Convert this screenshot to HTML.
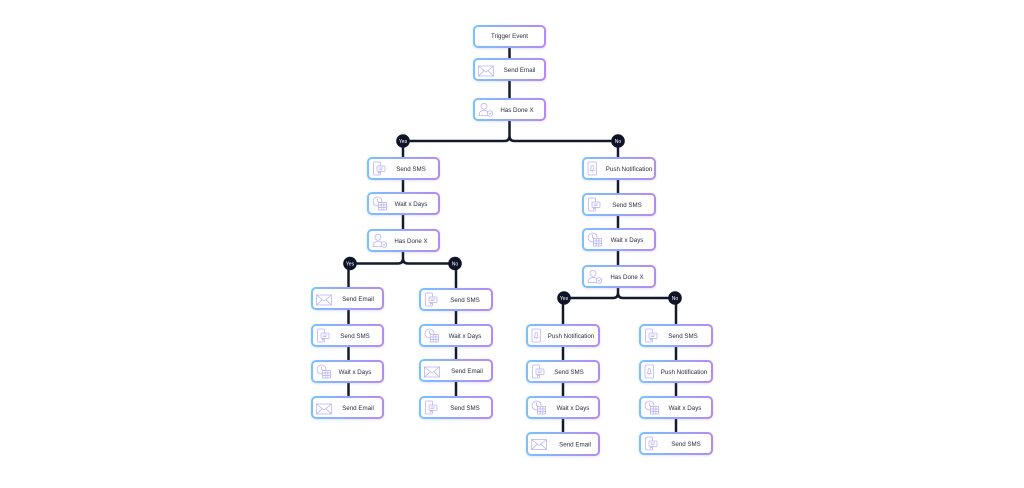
<!DOCTYPE html>
<html>
<head>
<meta charset="utf-8">
<style>
html,body{margin:0;padding:0;background:#fff;}
body{width:1024px;height:488px;overflow:hidden;}
svg{display:block;}
.t{font-family:"Liberation Sans",sans-serif;font-size:6.2px;fill:#2b2d3d;text-anchor:middle;}
.b{font-family:"Liberation Sans",sans-serif;font-size:5px;fill:#fff;text-anchor:middle;}
.ln{stroke:#141a2e;stroke-width:2.5;fill:none;}
.ic{stroke:#b9b0f4;stroke-width:0.75;fill:none;stroke-linejoin:round;stroke-linecap:round;}
</style>
</head>
<body>
<svg width="1024" height="488" viewBox="0 0 1024 488" xmlns="http://www.w3.org/2000/svg">
<defs>
<linearGradient id="g" x1="0" y1="0" x2="1" y2="0">
<stop offset="0" stop-color="#78c2ff"/>
<stop offset="1" stop-color="#b58af4"/>
</linearGradient>
<filter id="sh" x="-20%" y="-30%" width="140%" height="160%">
<feDropShadow dx="0" dy="0.8" stdDeviation="1.2" flood-color="#8a8ad8" flood-opacity="0.25"/>
</filter>
<g id="i-email" class="ic">
<rect x="0.5" y="2" width="15" height="10"/>
<polyline points="0.5,2 8,8 15.5,2"/>
<line x1="0.5" y1="12" x2="6" y2="6.8"/>
<line x1="15.5" y1="12" x2="10" y2="6.8"/>
</g>
<g id="i-sms" class="ic">
<rect x="1.5" y="0.5" width="7" height="13" rx="1"/>
<rect x="5" y="4.5" width="8" height="5.5" rx="0.8" fill="#fff"/>
<line x1="7" y1="6.5" x2="11" y2="6.5"/>
<line x1="7" y1="8" x2="10" y2="8"/>
<polyline points="6.5,10 6.5,12 8.5,10"/>
</g>
<g id="i-wait" class="ic">
<circle cx="5.5" cy="5" r="4.5"/>
<polyline points="5.5,2.3 5.5,5 7.5,6"/>
<rect x="6.5" y="6" width="8" height="7.5" fill="#fff"/>
<line x1="6.5" y1="8.5" x2="14.5" y2="8.5"/>
<line x1="6.5" y1="11" x2="14.5" y2="11"/>
<line x1="9.2" y1="6" x2="9.2" y2="13.5"/>
<line x1="11.9" y1="6" x2="11.9" y2="13.5"/>
</g>
<g id="i-person" class="ic">
<circle cx="6" cy="3.8" r="3"/>
<path d="M1 13 Q1 8 6 8 Q8.5 8 10 9.3"/>
<line x1="1" y1="13" x2="9.5" y2="13"/>
<circle cx="12" cy="11" r="2.8" fill="#fff"/>
<polyline points="10.9,11 11.8,11.9 13.3,10.2"/>
</g>
<g id="i-push" class="ic">
<rect x="2" y="0.5" width="8.5" height="13" rx="1.2"/>
<path d="M4.3 9 Q5 8.2 5 6.5 Q5 4 6.3 4 Q7.6 4 7.6 6.5 Q7.6 8.2 8.3 9 Z"/>
<line x1="5.8" y1="10.2" x2="6.8" y2="10.2"/>
</g>
</defs>

<!-- connectors -->
<g class="ln">
<path d="M509.5 47 V58 M509.5 81 V98"/>
<path d="M509.5 121 V136 Q509.5 141 504.5 141 H403 M509.5 136 Q509.5 141 514.5 141 H618"/>
<path d="M403 141 V157 M403 180 V192 M403 215 V229"/>
<path d="M403 252 V258.5 Q403 263.5 398 263.5 H350 M403 258.5 Q403 263.5 408 263.5 H455"/>
<path d="M348.5 263.5 V287 M348.5 310 V324 M348.5 347 V360 M348.5 383 V396"/>
<path d="M456 263.5 V288 M456 311 V324 M456 347 V359 M456 382 V396"/>
<path d="M618 141 V157 M618 180 V193 M618 216 V228 M618 251 V265"/>
<path d="M618 288 V293 Q618 298 613 298 H564 M618 293 Q618 298 623 298 H675"/>
<path d="M563 298 V324 M563 347 V360 M563 383 V396 M563 419 V432"/>
<path d="M676 298 V324 M676 347 V360 M676 383 V396 M676 419 V432"/>
</g>

<!-- branch labels -->
<g fill="#0f1428">
<circle cx="403" cy="141" r="6.8"/>
<circle cx="618" cy="141" r="6.8"/>
<circle cx="350" cy="263.5" r="6.8"/>
<circle cx="455" cy="263.5" r="6.8"/>
<circle cx="564" cy="298" r="6.8"/>
<circle cx="675" cy="298" r="6.8"/>
</g>
<text class="b" x="403" y="142.8">Yes</text>
<text class="b" x="618" y="142.8">No</text>
<text class="b" x="350" y="265.3">Yes</text>
<text class="b" x="455" y="265.3">No</text>
<text class="b" x="564" y="299.8">Yes</text>
<text class="b" x="675" y="299.8">No</text>

<!-- nodes -->
<g filter="url(#sh)" fill="#fff" stroke="url(#g)" stroke-width="2">
<rect x="474" y="26" width="71" height="21" rx="4"/>
<rect x="474" y="59" width="71" height="21" rx="4"/>
<rect x="474" y="99" width="71" height="21" rx="4"/>

<rect x="368" y="158" width="71" height="21" rx="4"/>
<rect x="368" y="193" width="71" height="21" rx="4"/>
<rect x="368" y="230" width="71" height="21" rx="4"/>

<rect x="312" y="288" width="71" height="21" rx="4"/>
<rect x="312" y="325" width="71" height="21" rx="4"/>
<rect x="312" y="361" width="71" height="21" rx="4"/>
<rect x="312" y="397" width="71" height="21" rx="4"/>

<rect x="420" y="289" width="72" height="21" rx="4"/>
<rect x="420" y="325" width="72" height="21" rx="4"/>
<rect x="420" y="360" width="72" height="21" rx="4"/>
<rect x="420" y="397" width="72" height="21" rx="4"/>

<rect x="583" y="158" width="72" height="21" rx="4"/>
<rect x="583" y="194" width="72" height="21" rx="4"/>
<rect x="583" y="229" width="72" height="21" rx="4"/>
<rect x="583" y="266" width="72" height="21" rx="4"/>

<rect x="527" y="325" width="72" height="21" rx="4"/>
<rect x="527" y="361" width="72" height="21" rx="4"/>
<rect x="527" y="397" width="72" height="21" rx="4"/>
<rect x="527" y="433" width="72" height="22" rx="4"/>

<rect x="640" y="325" width="72" height="21" rx="4"/>
<rect x="640" y="361" width="72" height="21" rx="4"/>
<rect x="640" y="397" width="72" height="21" rx="4"/>
<rect x="640" y="433" width="72" height="21" rx="4"/>
</g>

<!-- icons -->
<use href="#i-email" x="478" y="64"/>
<use href="#i-person" x="478" y="102.5"/>

<use href="#i-sms" x="372" y="161.5"/>
<use href="#i-wait" x="372" y="196.5"/>
<use href="#i-person" x="372" y="233.5"/>

<use href="#i-email" x="316" y="293"/>
<use href="#i-sms" x="316" y="328.5"/>
<use href="#i-wait" x="316" y="364.5"/>
<use href="#i-email" x="316" y="402"/>

<use href="#i-sms" x="424" y="292.5"/>
<use href="#i-wait" x="424" y="328.5"/>
<use href="#i-email" x="424" y="365"/>
<use href="#i-sms" x="424" y="400.5"/>

<use href="#i-push" x="586" y="161.5"/>
<use href="#i-sms" x="587" y="197.5"/>
<use href="#i-wait" x="587" y="232.5"/>
<use href="#i-person" x="587" y="269.5"/>

<use href="#i-push" x="530" y="328.5"/>
<use href="#i-sms" x="531" y="364.5"/>
<use href="#i-wait" x="531" y="400.5"/>
<use href="#i-email" x="531" y="437.5"/>

<use href="#i-sms" x="644" y="328.5"/>
<use href="#i-push" x="643" y="364.5"/>
<use href="#i-wait" x="644" y="400.5"/>
<use href="#i-sms" x="644" y="436.5"/>

<!-- labels -->
<text class="t" x="509.5" y="38.2">Trigger Event</text>
<text class="t" x="519.5" y="71.8">Send Email</text>
<text class="t" x="517" y="111.8">Has Done X</text>

<text class="t" x="411" y="170.8">Send SMS</text>
<text class="t" x="411" y="205.8">Wait x Days</text>
<text class="t" x="411" y="242.8">Has Done X</text>

<text class="t" x="358" y="300.8">Send Email</text>
<text class="t" x="355" y="337.8">Send SMS</text>
<text class="t" x="355" y="373.8">Wait x Days</text>
<text class="t" x="358" y="409.8">Send Email</text>

<text class="t" x="465" y="301.8">Send SMS</text>
<text class="t" x="465" y="337.8">Wait x Days</text>
<text class="t" x="467" y="372.8">Send Email</text>
<text class="t" x="465" y="409.8">Send SMS</text>

<text class="t" x="629" y="170.8">Push Notification</text>
<text class="t" x="627" y="206.8">Send SMS</text>
<text class="t" x="627" y="241.8">Wait x Days</text>
<text class="t" x="627" y="278.8">Has Done X</text>

<text class="t" x="571" y="337.8">Push Notification</text>
<text class="t" x="569" y="373.8">Send SMS</text>
<text class="t" x="573" y="409.8">Wait x Days</text>
<text class="t" x="575" y="446.3">Send Email</text>

<text class="t" x="683" y="337.8">Send SMS</text>
<text class="t" x="684" y="373.8">Push Notification</text>
<text class="t" x="685" y="409.8">Wait x Days</text>
<text class="t" x="686" y="445.8">Send SMS</text>
</svg>
</body>
</html>
